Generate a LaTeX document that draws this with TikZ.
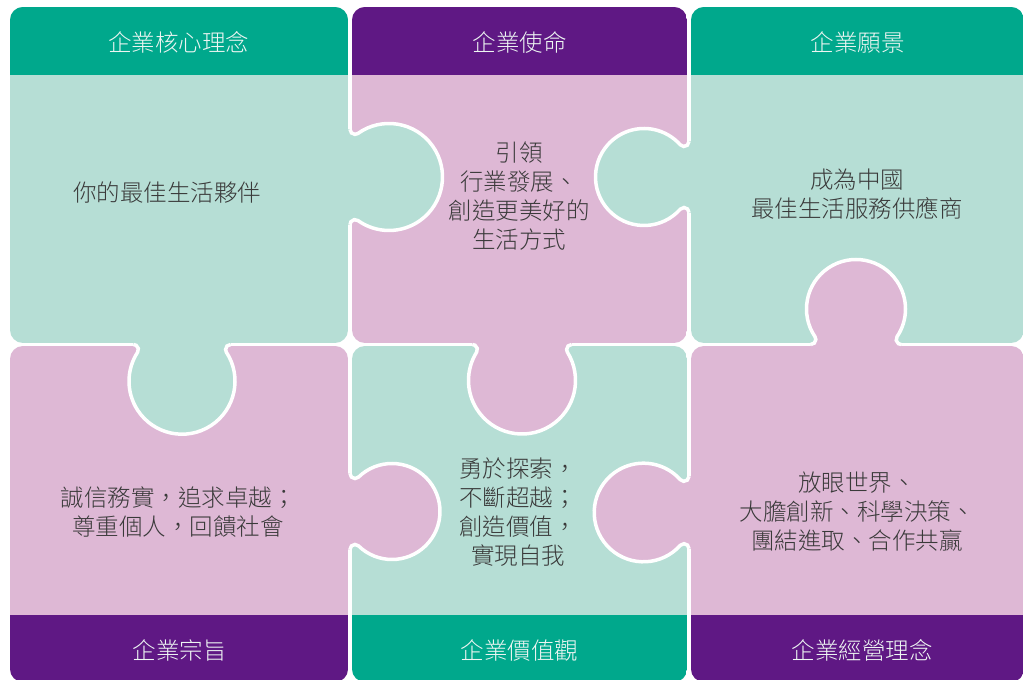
\documentclass[tikz,border=0pt]{standalone}
\usepackage{fontspec}
\IfFontExistsTF{Noto Sans CJK TC Light}{\setmainfont{Noto Sans CJK TC Light}}{%
  \IfFontExistsTF{Noto Sans CJK TC DemiLight}{\setmainfont{Noto Sans CJK TC DemiLight}}{\setmainfont{Noto Sans CJK TC}}}
\definecolor{hdgreen}{HTML}{00A88C}
\definecolor{hdpurple}{HTML}{5F1884}
\definecolor{bdgreen}{HTML}{B6DED5}
\definecolor{bdpink}{HTML}{DEB8D5}
\definecolor{txt}{HTML}{3A3A3A}
\definecolor{hdtxt}{HTML}{EEF6F3}
\tikzset{
  bodytext/.style={text=txt, font=\fontsize{23.5}{29}\selectfont, align=center, inner sep=0pt},
  headtext/.style={text=hdtxt, font=\fontsize{23.5}{29}\selectfont, inner sep=0pt},
  knobline/.style={draw=white, line width=3.5pt},
}
% piece: x1, ytop, x2, ybottom, body colour, band colour, band y1, band y2
\newcommand{\pzpiece}[8]{%
  \begin{scope}
    \clip[rounded corners=13pt] (#1,#4) rectangle (#3,#2);
    \fill[#5] (#1,#4) rectangle (#3,#2);
    \fill[#6] (#1,#7) rectangle (#3,#8);
  \end{scope}}
% knob: edge x, edge y, rotation, centre distance, radius, colour
\newcommand{\pzknob}[6]{%
  \pgfmathsetmacro\pzxf{sqrt((#5+5)^2-(#4-5)^2)}%
  \pgfmathsetmacro\pzth{atan2(#4-5,\pzxf)}%
  \begin{scope}[shift={(#1,#2)}, rotate=#3]
    \fill[#6] (-\pzxf,0) arc[start angle=-90, end angle=\pzth, radius=5]
      arc[start angle=180+\pzth, end angle=-\pzth, radius=#5]
      arc[start angle=180-\pzth, end angle=270, radius=5]
      -- (\pzxf,-4) -- (-\pzxf,-4) -- cycle;
    \draw[knobline] (-\pzxf,0) arc[start angle=-90, end angle=\pzth, radius=5]
      arc[start angle=180+\pzth, end angle=-\pzth, radius=#5]
      arc[start angle=180-\pzth, end angle=270, radius=5];
  \end{scope}}
\begin{document}
\begin{tikzpicture}[x=1pt,y=1pt]
\useasboundingbox (0,0) rectangle (1023,680);
\fill[white] (0,0) rectangle (1023,680);
% pieces
\pzpiece{10}{673}{348}{337}{bdgreen}{hdgreen}{605}{673}
\pzpiece{352}{673}{687}{337}{bdpink}{hdpurple}{605}{673}
\pzpiece{691}{673}{1024}{337}{bdgreen}{hdgreen}{605}{673}
\pzpiece{10}{334}{348}{-2}{bdpink}{hdpurple}{-2}{65}
\pzpiece{352}{334}{687}{-2}{bdgreen}{hdgreen}{-2}{65}
\pzpiece{691}{334}{1024}{-2}{bdpink}{hdpurple}{-2}{65}
% knobs
\pzknob{350}{503}{-90}{39}{53.5}{bdgreen}
\pzknob{689}{503}{90}{45}{48.5}{bdgreen}
\pzknob{182}{335.5}{180}{36.7}{53}{bdgreen}
\pzknob{522}{335.5}{180}{36}{53.5}{bdpink}
\pzknob{350}{168.5}{-90}{42}{48}{bdpink}
\pzknob{689}{167.5}{90}{45.5}{49.3}{bdpink}
\pzknob{856}{335.5}{0}{35.5}{49.5}{bdpink}
% headers and footers
\node[headtext] (h1) at (178.5,637.5) {企業核心理念};
\node[headtext] (h2) at (519.5,637.5) {企業使命};
\node[headtext] (h3) at (857.5,637.5) {企業願景};
\node[headtext] (f1) at (179.5,29.5) {企業宗旨};
\node[headtext] (f2) at (519.5,29.5) {企業價值觀};
\node[headtext] (f3) at (862,29.5) {企業經營理念};
% body texts
\node[bodytext] (t1) at (167,487) {你的最佳生活夥伴};
\node[bodytext] (t2) at (519,484) {引領\\行業發展、\\創造更美好的\\生活方式};
\node[bodytext] (t3) at (857,486) {成為中國\\最佳生活服務供應商};
\node[bodytext] (t4) at (178,168) {誠信務實，追求卓越；\\尊重個人，回饋社會};
\node[bodytext] (t5) at (518,168) {勇於探索，\\不斷超越；\\創造價值，\\實現自我};
\node[bodytext] (t6) at (857,168) {放眼世界、\\大膽創新、科學決策、\\團結進取、合作共贏};
\end{tikzpicture}
\end{document}
